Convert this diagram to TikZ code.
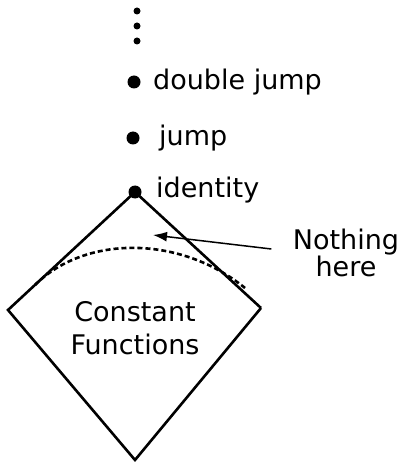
\documentclass[tikz,border=0pt]{standalone}
\usepackage{fontspec}
\setmainfont{DejaVu Sans}
\usepackage{tikz}
\usetikzlibrary{positioning,arrows.meta}

\begin{document}
\begin{tikzpicture}[x=1pt,y=-1pt,
    bigdot/.style={circle, fill=black, inner sep=0pt, minimum size=13pt},
    smalldot/.style={circle, fill=black, inner sep=0pt, minimum size=7pt},
    lbl/.style={anchor=west, inner sep=0pt, font=\fontsize{27}{30}\selectfont},
    edge/.style={line width=2.6pt}]
  \useasboundingbox (0,0) rectangle (400,462);
  % the ladder of functions
  \node[smalldot] (e1) at (137,11) {};
  \node[smalldot] (e2) at (137,26) {};
  \node[smalldot] (e3) at (137,41) {};
  \node[bigdot] (djump) at (134,82) {};
  \node[bigdot] (jump) at (133,138) {};
  \node[bigdot] (id) at (135,192) {};
  \node[lbl] (djumplbl) at (153,82) {double jump};
  \node[lbl] (jumplbl) at (159,138) {jump};
  \node[lbl] (idlbl) at (156,190) {identity};
  % the diamond
  \coordinate (top) at (135,192);
  \coordinate (left) at (8,310);
  \coordinate (right) at (261,308);
  \coordinate (bot) at (135,460);
  \draw[edge, line join=miter] (right) -- (bot) -- (left) -- (top) -- (right);
  \node[align=center, font=\fontsize{27}{33}\selectfont] (const) at (135,328)
    {Constant\\Functions};
  % dashed boundary
  \coordinate (dl) at (35,285);
  \coordinate (dr) at (245,288);
  \draw[edge, dashed, dash pattern=on 5pt off 3pt] (dl) .. controls (85,235) and (180,235) .. (dr);
  % note
  \node[align=center, font=\fontsize{27}{27}\selectfont] (note) at (346,253) {Nothing\\here};
  \coordinate (tip) at (153,235);
  \draw[line width=1.5pt, -{Latex[length=14pt,width=10pt]}] (note.west) ++(-18,-4) -- (tip);
\end{tikzpicture}
\end{document}
